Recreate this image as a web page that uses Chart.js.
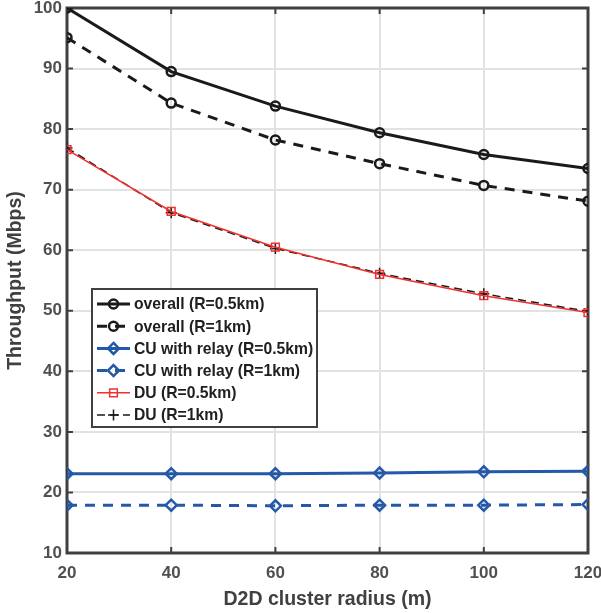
<!DOCTYPE html>
<html>
<head>
<meta charset="utf-8">
<script src="https://cdn.jsdelivr.net/npm/chart.js@4/dist/chart.umd.min.js"></script>
<style>
  html, body { margin: 0; padding: 0; background: #fff; }
  #wrap { width: 601px; height: 613px; }
</style>
</head>
<body>
<div id="wrap"><canvas id="c" width="601" height="613"></canvas></div>
<script>
// cluster radius (m)
var radius = [20, 40, 60, 80, 100, 120];

// throughput (Mbps)
var overall05 = [100, 89.5, 83.8, 79.4, 75.8, 73.5];
var overall1  = [95.1, 84.3, 78.2, 74.3, 70.7, 68.1];
var cu05      = [23.1, 23.1, 23.1, 23.2, 23.4, 23.5];
var cu1       = [17.9, 17.9, 17.8, 17.9, 17.9, 18.0];
var du05      = [76.6, 66.4, 60.5, 56.0, 52.5, 49.7];
var du1       = [76.9, 66.2, 60.3, 56.2, 52.8, 49.9];

var xTicks = [20, 40, 60, 80, 100, 120];
var yTicks = [10, 20, 30, 40, 50, 60, 70, 80, 90, 100];

var labels = [
    'overall (R=0.5km)',
    'overall (R=1km)',
    'CU with relay (R=0.5km)',
    'CU with relay (R=1km)',
    'DU (R=0.5km)',
    'DU (R=1km)'
];

var BLUE = '#2458a8';
var RED = '#f03030';
var AXIS = '#404040';

function pts(ys) {
    var out = [];
    for (var i = 0; i < radius.length; i++) {
        out.push({ x: radius[i], y: ys[i] });
    }
    return out;
}

function series(label, ys, color, width, dash, style, r, bw) {
    return {
        label: label,
        data: pts(ys),
        borderColor: color,
        borderWidth: width,
        borderDash: dash,
        pointStyle: style,
        pointRadius: r,
        pointBorderColor: color,
        pointBorderWidth: bw,
        pointBackgroundColor: 'rgba(0,0,0,0)',
        pointHoverRadius: r,
        tension: 0,
        fill: false
    };
}

// MATLAB style frame + inward ticks
var frame = {
    id: 'frame',
    beforeDatasetsDraw: function (chart) {
        var ctx = chart.ctx, a = chart.chartArea;
        var xs = chart.scales.x, ys = chart.scales.y;
        ctx.save();
        ctx.strokeStyle = AXIS;
        ctx.lineWidth = 2;
        var t = 6;
        xTicks.forEach(function (v) {
            var px = xs.getPixelForValue(v);
            ctx.beginPath();
            ctx.moveTo(px, a.bottom); ctx.lineTo(px, a.bottom - t);
            ctx.moveTo(px, a.top); ctx.lineTo(px, a.top + t);
            ctx.stroke();
        });
        yTicks.forEach(function (v) {
            var py = ys.getPixelForValue(v);
            ctx.beginPath();
            ctx.moveTo(a.left, py); ctx.lineTo(a.left + t, py);
            ctx.moveTo(a.right, py); ctx.lineTo(a.right - t, py);
            ctx.stroke();
        });
        ctx.lineWidth = 3;
        ctx.strokeRect(a.left, a.top, a.right - a.left, a.bottom - a.top);
        ctx.restore();
    }
};

function marker(ctx, style, x, y, r) {
    ctx.beginPath();
    if (style === 'circle') {
        ctx.arc(x, y, r, 0, Math.PI * 2);
    } else if (style === 'rectRot') {
        ctx.moveTo(x, y - r); ctx.lineTo(x + r, y); ctx.lineTo(x, y + r); ctx.lineTo(x - r, y); ctx.closePath();
    } else if (style === 'rect') {
        ctx.rect(x - r * 0.7, y - r * 0.7, r * 1.4, r * 1.4);
    } else if (style === 'cross') {
        ctx.moveTo(x - r, y); ctx.lineTo(x + r, y);
        ctx.moveTo(x, y - r); ctx.lineTo(x, y + r);
    }
    ctx.stroke();
}

// legend box inside the axes
var boxLegend = {
    id: 'boxLegend',
    afterDatasetsDraw: function (chart) {
        var ctx = chart.ctx;
        var bx = 92, by = 289, bw = 225, bh = 138, row = 22.2;
        ctx.save();
        ctx.fillStyle = '#fff';
        ctx.fillRect(bx, by, bw, bh);
        ctx.strokeStyle = AXIS;
        ctx.lineWidth = 2;
        ctx.strokeRect(bx, by, bw, bh);
        ctx.font = 'bold 15.7px "Liberation Sans", Arial, sans-serif';
        ctx.textBaseline = 'middle';
        chart.data.datasets.forEach(function (ds, i) {
            var y = 304 + i * row;
            ctx.strokeStyle = ds.borderColor;
            ctx.lineWidth = ds.borderWidth;
            ctx.setLineDash(ds.borderDash || []);
            ctx.beginPath();
            ctx.moveTo(97, y); ctx.lineTo(130, y);
            ctx.stroke();
            ctx.setLineDash([]);
            ctx.lineWidth = ds.pointBorderWidth;
            marker(ctx, ds.pointStyle, 113.5, y, ds.pointRadius);
            ctx.fillStyle = '#202020';
            ctx.fillText(ds.label, 134, y + 1);
        });
        ctx.restore();
    }
};

var tickFont = { family: '"Liberation Sans", Arial, sans-serif', size: 17, weight: 'bold' };
var titleFont = { family: '"Liberation Sans", Arial, sans-serif', size: 19.5, weight: 'bold' };

new Chart(document.getElementById('c'), {
    type: 'line',
    data: {
        datasets: [
            series(labels[0], overall05, '#1a1a1a', 3, [], 'circle', 4.5, 2.5),
            series(labels[1], overall1, '#1a1a1a', 3, [10, 8], 'circle', 4.5, 2.5),
            series(labels[2], cu05, BLUE, 3, [], 'rectRot', 5.5, 2.5),
            series(labels[3], cu1, BLUE, 3, [10, 8], 'rectRot', 5.5, 2.5),
            series(labels[4], du05, RED, 1.5, [], 'rect', 5.5, 1.5),
            series(labels[5], du1, '#1a1a1a', 1.5, [8, 5], 'cross', 5.5, 1.5)
        ]
    },
    options: {
        responsive: false,
        animation: false,
        layout: { padding: { left: 0, right: 13, top: 7, bottom: 0 } },
        plugins: {
            legend: { display: false },
            tooltip: { enabled: false }
        },
        scales: {
            x: {
                type: 'linear',
                min: 20, max: 120,
                afterBuildTicks: function (s) { s.ticks = xTicks.map(function (v) { return { value: v }; }); },
                grid: { color: '#e2e2e2', lineWidth: 2, drawTicks: false },
                border: { display: false },
                ticks: { font: tickFont, color: '#505050', padding: 10, maxRotation: 0 },
                title: { display: true, text: 'D2D cluster radius (m)', font: titleFont, color: AXIS, padding: { top: 6, bottom: 2 } },
                afterFit: function (s) { s.height = 60; s.paddingLeft = 0; s.paddingRight = 0; }
            },
            y: {
                type: 'linear',
                min: 10, max: 100,
                afterBuildTicks: function (s) { s.ticks = yTicks.map(function (v) { return { value: v }; }); },
                grid: { color: '#e2e2e2', lineWidth: 2, drawTicks: false },
                border: { display: false },
                ticks: { font: tickFont, color: '#505050', padding: 5 },
                title: { display: true, text: 'Throughput (Mbps)', font: titleFont, color: AXIS, padding: { top: 4, bottom: 2 } },
                afterFit: function (s) { s.width = 67; s.paddingTop = 0; s.paddingBottom = 0; }
            }
        }
    },
    plugins: [frame, boxLegend]
});
</script>
</body>
</html>
